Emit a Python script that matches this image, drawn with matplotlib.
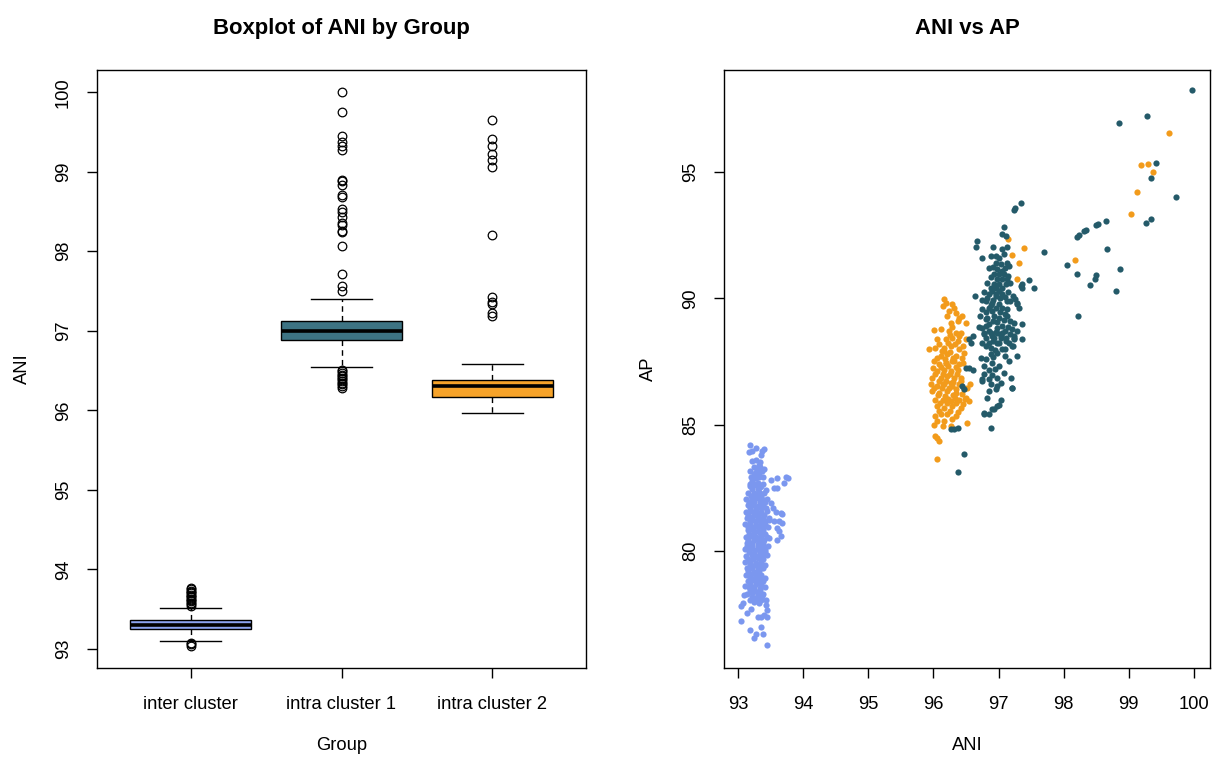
import matplotlib
matplotlib.use("Agg")
import matplotlib.pyplot as plt

plt.rcParams['font.family'] = ['Liberation Sans', 'DejaVu Sans']

# ---------------- Boxplot data (stats) ----------------
groups = ["inter cluster", "intra cluster 1", "intra cluster 2"]
box_med = [93.305, 97.00, 96.30]
box_q1 = [93.245, 96.88, 96.17]
box_q3 = [93.367, 97.12, 96.38]
box_whislo = [93.096, 96.55, 95.97]
box_whishi = [93.52, 97.40, 96.58]
fliers_inter = [93.54, 93.56, 93.58, 93.60, 93.62, 93.63, 93.65, 93.66, 93.68,
                93.70, 93.71, 93.73, 93.75, 93.77, 93.04, 93.06, 93.08]
fliers_intra1 = [100.0, 99.75, 99.45, 99.37, 99.33, 99.28, 98.90, 98.88, 98.83,
                 98.71, 98.68, 98.53, 98.50, 98.43, 98.36, 98.33, 98.26, 98.24,
                 98.07, 97.72, 97.57, 97.50,
                 96.28, 96.31, 96.33, 96.35, 96.37, 96.39, 96.41, 96.43, 96.45,
                 96.47, 96.49, 96.51]
fliers_intra2 = [99.65, 99.41, 99.32, 99.22, 99.15, 99.06, 98.21, 97.42, 97.36,
                 97.34, 97.23, 97.19]
box_colors = ["#8CA4F0", "#3D7383", "#F6A32A"]

# ---------------- Scatter data ----------------
inter_ani = [93.19, 93.27, 93.17, 93.22, 93.37, 93.40, 93.35,
             93.32, 93.30, 93.19, 93.25, 93.37, 93.40,
             93.27, 93.22, 93.30, 93.35, 93.43,
             93.50, 93.60, 93.73, 93.71, 93.55, 93.60, 93.76,
             93.50, 93.53, 93.58, 93.66, 93.68, 93.47, 93.48, 93.55, 93.63, 93.68,
             93.60, 93.63, 93.66, 93.48, 93.60,
             93.09, 93.04, 93.07, 93.04, 93.14, 93.19, 93.27, 93.25, 93.35, 93.39,
             93.45, 93.30, 93.35, 93.40, 93.45, 93.43, 93.45, 93.20, 93.11,
             93.16, 93.24, 93.32, 93.40,
             93.13, 93.21, 93.29, 93.37, 93.44,
             93.15, 93.23, 93.31, 93.39,
             93.12, 93.20, 93.28, 93.36, 93.44,
             93.14, 93.22, 93.30, 93.38,
             93.11, 93.19, 93.27, 93.35, 93.42,
             93.15, 93.23, 93.31, 93.39,
             93.12, 93.20, 93.28, 93.36, 93.44,
             93.14, 93.22, 93.30, 93.38,
             93.10, 93.18, 93.26, 93.34, 93.42,
             93.13, 93.21, 93.29, 93.37, 93.45,
             93.11, 93.19, 93.27, 93.35,
             93.14, 93.22, 93.30, 93.38,
             93.12, 93.20, 93.28, 93.36,
             93.15, 93.23, 93.31, 93.39,
             93.17, 93.25, 93.33, 93.41,
             93.14, 93.22, 93.30, 93.38,
             93.19, 93.27, 93.35, 93.43,
             93.18, 93.26, 93.34, 93.28, 93.22, 93.33,
             93.20, 93.28, 93.36,
             93.17, 93.25, 93.33, 93.41,
             93.19, 93.27, 93.35, 93.43,
             93.16, 93.24, 93.32, 93.40,
             93.18, 93.26, 93.34, 93.42,
             93.15, 93.23, 93.31, 93.39, 93.46,
             93.17, 93.25, 93.33, 93.41,
             93.16, 93.24, 93.32, 93.40,
             93.14, 93.22, 93.30, 93.38, 93.46,
             93.17, 93.25, 93.33, 93.41,
             93.15, 93.23, 93.31, 93.39,
             93.18, 93.26, 93.34, 93.42,
             93.16, 93.24, 93.32,
             93.18, 93.26, 93.34, 93.42,
             93.19, 93.27, 93.35,
             93.18, 93.26, 93.34,
             93.21, 93.29, 93.37,
             93.24, 93.32,
             93.24, 93.34, 93.28, 93.32, 93.20, 93.32, 93.38,
             93.18, 93.26, 93.38, 93.22, 93.30]
inter_ap = [84.17, 84.07, 83.90, 83.94, 83.94, 84.01, 83.81,
            83.41, 83.28, 83.15, 83.02, 83.15, 83.24,
            82.88, 82.75, 82.69, 82.55, 82.42,
            82.82, 82.88, 82.92, 82.69, 82.49, 82.49, 82.88,
            81.89, 81.69, 81.52, 81.50, 81.47, 81.30, 81.23, 81.16, 81.16, 81.10,
            80.90, 80.77, 80.57, 80.50, 80.44,
            78.25, 77.79, 77.92, 77.20, 77.53, 76.87, 76.69, 76.53, 76.96, 76.69,
            76.27, 77.39, 77.39, 77.46, 77.66, 77.86, 77.39, 77.70, 78.60,
            82.30, 82.28, 82.32, 82.30,
            82.05, 82.03, 82.07, 82.05, 82.06,
            81.80, 81.82, 81.78, 81.80,
            81.55, 81.57, 81.53, 81.55, 81.56,
            81.30, 81.32, 81.28, 81.30,
            81.05, 81.07, 81.03, 81.05, 81.04,
            80.80, 80.82, 80.78, 80.80,
            80.55, 80.57, 80.53, 80.55, 80.56,
            80.30, 80.32, 80.28, 80.30,
            80.05, 80.07, 80.03, 80.05, 80.04,
            79.80, 79.82, 79.78, 79.80, 79.81,
            79.55, 79.57, 79.53, 79.55,
            79.30, 79.32, 79.28, 79.30,
            79.05, 79.07, 79.03, 79.05,
            78.80, 78.82, 78.78, 78.80,
            78.55, 78.57, 78.53, 78.55,
            78.30, 78.32, 78.28, 78.30,
            78.05, 78.07, 78.03, 78.05,
            82.55, 82.60, 82.52, 83.60, 83.55, 83.50,
            82.18, 82.17, 82.19,
            81.93, 81.92, 81.94, 81.93,
            81.68, 81.67, 81.69, 81.68,
            81.43, 81.42, 81.44, 81.43,
            81.18, 81.17, 81.19, 81.18,
            80.93, 80.92, 80.94, 80.93, 80.92,
            80.68, 80.67, 80.69, 80.68,
            80.43, 80.42, 80.44, 80.43,
            80.18, 80.17, 80.19, 80.18, 80.17,
            79.93, 79.92, 79.94, 79.93,
            79.68, 79.67, 79.69, 79.68,
            79.43, 79.42, 79.44, 79.43,
            79.18, 79.17, 79.19,
            78.93, 78.92, 78.94, 78.93,
            78.68, 78.67, 78.69,
            78.43, 78.42, 78.44,
            78.18, 78.17, 78.19,
            77.95, 77.94,
            83.30, 83.32, 83.10, 83.08, 82.90, 82.92, 82.90,
            82.65, 82.66, 82.64, 82.45, 82.44]

intra2_ani = [96.16, 96.20, 96.15, 96.29, 96.32, 96.24, 96.34, 96.21, 96.39, 96.44,
              96.37, 96.27, 96.50, 96.01, 96.11, 96.24, 96.34, 96.42, 96.06, 96.19,
              96.29, 96.37, 96.50, 95.93, 96.03, 96.16, 96.27, 96.39, 96.47, 96.11,
              96.21, 96.34, 96.44, 96.01, 96.09, 96.19, 96.29, 96.39, 96.06, 96.16,
              96.27, 96.37, 95.98, 96.11, 96.21, 96.32, 96.42, 95.96, 96.06, 96.16,
              96.29, 96.39, 95.98, 96.09, 96.21, 96.34, 96.47, 96.52, 96.03, 96.14,
              96.27, 96.39, 96.50, 96.06, 96.16, 96.29, 96.42, 96.11, 96.21, 96.34,
              96.03, 96.06, 96.16, 96.29, 96.01, 96.14, 96.27, 96.03, 96.09, 96.06,
              96.06, 96.52,
              96.08, 96.22, 96.33, 96.13, 96.25, 96.05, 96.18, 96.30, 96.23, 96.12,
              96.35, 96.02, 96.14, 96.25, 96.36, 96.08, 96.19, 96.30, 96.43, 96.01,
              96.13, 96.24, 96.35, 96.07, 96.18, 96.30, 96.44, 96.10, 96.21, 96.34,
              96.09, 96.25, 96.37, 96.45, 96.48, 96.55, 95.99, 96.45, 96.40, 96.28,
              96.45, 96.56,
              96.20, 96.31, 96.15, 96.27, 96.22, 96.33, 96.17, 96.26,
              97.15, 97.39, 97.21, 97.31, 97.29, 99.62, 99.19, 99.30, 99.37, 99.12,
              99.04, 98.17]
intra2_ap = [89.96, 89.83, 89.69, 89.76, 89.63, 89.50, 89.43, 89.30, 89.23, 89.30,
             89.10, 89.03, 89.03, 88.75, 88.77, 88.70, 88.64, 88.64, 88.37, 88.37,
             88.44, 88.31, 88.37, 88.00, 88.04, 88.04, 88.11, 87.98, 87.84, 87.71,
             87.78, 87.71, 87.65, 87.51, 87.38, 87.45, 87.51, 87.38, 87.12, 87.18,
             87.12, 87.18, 86.85, 86.85, 86.92, 86.85, 86.85, 86.59, 86.52, 86.59,
             86.52, 86.59, 86.32, 86.26, 86.32, 86.26, 86.39, 86.46, 85.99, 85.99,
             85.93, 85.99, 86.06, 85.73, 85.66, 85.73, 85.66, 85.40, 85.40, 85.34,
             85.34, 85.14, 85.14, 85.20, 85.00, 84.93, 84.93, 84.54, 84.34, 84.47,
             83.64, 85.07,
             88.20, 88.22, 88.18, 87.90, 87.88, 87.62, 87.60, 87.62, 87.30, 87.28,
             87.28, 87.00, 87.02, 87.00, 87.02, 86.72, 86.74, 86.70, 86.72, 86.45,
             86.43, 86.44, 86.42, 86.15, 86.12, 86.15, 86.20, 85.85, 85.86, 85.84,
             85.55, 85.55, 85.50, 85.80, 86.00, 85.95, 87.25, 87.45, 88.50, 88.85,
             88.10, 86.60,
             87.45, 87.50, 86.60, 86.65, 86.00, 86.05, 87.90, 88.55,
             92.34, 92.01, 91.72, 91.39, 90.75, 96.54, 95.28, 95.32, 94.99, 94.22,
             93.33, 91.53]

intra1_ani = [99.97, 99.28, 98.85, 99.42, 99.34, 99.73, 99.26, 99.34, 98.65, 98.52,
              98.49, 98.34, 98.31, 98.24, 98.21, 97.69, 98.67, 98.05, 98.21, 98.49,
              98.48, 98.86, 98.40, 98.80, 98.22,
              97.34, 97.26, 97.24, 97.08, 97.06, 97.11, 96.67, 96.65, 96.91, 97.06,
              97.13, 96.75, 96.88, 96.96, 97.01, 97.08, 97.47, 97.36, 97.36, 97.54,
              96.64,
              96.96, 97.03, 97.13, 97.16, 96.98, 97.06, 96.93, 97.01, 97.08, 96.98,
              97.06, 97.13, 96.93, 97.01, 97.11, 96.88, 96.96, 97.06, 96.85, 96.96,
              97.06, 96.96, 96.80, 97.13, 97.18, 96.90, 97.29, 96.85, 96.96, 97.06,
              97.31, 96.75, 97.13, 96.72, 96.93, 97.13, 96.83, 97.01, 97.18, 97.24,
              96.80, 97.06, 96.75, 96.98, 97.21, 97.29, 96.77, 97.18, 96.90, 97.03,
              97.24, 97.36,
              96.90, 97.00, 96.82, 96.92, 97.02, 97.10, 96.88, 97.00, 96.80, 96.90,
              97.02, 97.08, 96.92, 96.86, 96.96, 97.10, 96.92, 97.00, 97.12, 96.88,
              96.95, 97.10,
              96.78, 96.88, 96.98, 97.06, 96.80, 96.93, 97.03, 97.11, 96.75, 96.85,
              96.98, 97.24, 97.21, 97.29, 97.16, 96.73, 96.80, 96.88, 96.98, 97.06,
              96.90, 97.01, 96.78, 96.85, 96.55, 96.60, 96.75, 96.85, 96.98, 96.88,
              96.98, 96.85, 97.19, 97.21, 97.03, 96.98, 96.90, 96.78, 96.85, 96.37,
              96.32, 96.27, 96.88, 96.47, 96.37,
              96.55, 96.60, 96.57, 96.50, 96.44, 96.47, 96.75, 96.77,
              97.26, 97.29, 97.36, 97.24, 97.22, 97.21, 97.03, 96.96, 96.83, 97.01,
              96.93, 97.34,
              96.85, 96.92, 97.10, 96.88, 97.15, 96.82, 97.18, 96.78, 97.14, 96.75,
              97.22, 96.80, 97.10, 96.86, 96.98, 96.70, 97.14, 96.80, 97.16, 96.92,
              97.10, 96.95, 97.08, 96.78, 96.90]
intra1_ap = [98.27, 97.21, 96.93, 95.36, 94.76, 94.03, 93.00, 93.13, 93.07, 92.94,
             92.90, 92.70, 92.67, 92.50, 92.44, 91.85, 91.94, 91.31, 90.98, 90.93,
             90.78, 91.15, 90.52, 90.29, 89.31,
             93.76, 93.57, 93.49, 92.83, 92.54, 92.47, 92.28, 92.04, 92.04, 91.94,
             92.04, 91.61, 91.68, 91.68, 91.61, 91.75, 90.71, 90.58, 90.42, 90.42,
             90.09,
             91.42, 91.35, 91.42, 91.28, 91.15, 91.09, 90.95, 90.95, 90.95, 90.75,
             90.75, 90.75, 90.56, 90.56, 90.56, 90.42, 90.42, 90.42, 90.16, 90.16,
             90.16, 90.09, 89.89, 89.89, 89.89, 89.83, 89.83, 89.63, 89.63, 89.63,
             89.63, 89.56, 89.56, 89.30, 89.30, 89.30, 89.23, 89.23, 89.10, 89.03,
             88.90, 88.90, 88.83, 88.83, 88.77, 88.70, 88.57, 88.57, 88.50, 88.50,
             88.44, 88.37,
             90.30, 90.30, 90.00, 89.95, 90.00, 90.05, 89.75, 89.78, 89.45, 89.48,
             89.45, 89.15, 89.10, 88.70, 88.68, 88.72, 88.30, 88.25, 88.30, 88.05,
             87.95, 88.00,
             88.64, 88.64, 88.64, 88.64, 88.44, 88.44, 88.44, 88.44, 88.24, 88.24,
             88.24, 88.40, 88.11, 87.71, 87.51, 87.65, 87.58, 87.78, 87.84, 87.98,
             87.45, 87.31, 87.31, 87.18, 87.25, 87.18, 86.81, 86.79, 86.85, 86.59,
             86.52, 86.32, 86.85, 86.46, 85.99, 85.73, 85.60, 85.46, 85.40, 84.87,
             84.83, 84.83, 84.87, 83.85, 83.11,
             88.37, 88.50, 88.24, 87.25, 86.52, 86.39, 86.72, 85.40,
             89.96, 89.76, 88.97, 88.51, 88.11, 86.45, 86.65, 86.39, 86.06, 85.79,
             85.60, 90.49,
             91.20, 91.25, 91.20, 90.85, 90.90, 90.60, 90.60, 90.25, 90.25, 89.95,
             90.10, 89.20, 89.38, 89.00, 89.05, 88.85, 88.85, 88.12, 88.25, 87.68,
             87.70, 87.20, 87.05, 87.00, 86.95]

pt_colors = {"inter": "#7B97EF", "intra1": "#245A69", "intra2": "#F29B1B"}

# ---------------- Figure ----------------
fig = plt.figure(figsize=(12.13, 7.58), dpi=100)
ax1 = fig.add_axes([97 / 1213, 90 / 758, 489 / 1213, 598 / 758])
ax2 = fig.add_axes([724 / 1213, 90 / 758, 486 / 1213, 598 / 758])

label_fs = 13.2
title_fs = 15.9

# Boxplot
fliers = [fliers_inter, fliers_intra1, fliers_intra2]
stats = []
for i, g in enumerate(groups):
    stats.append(dict(label=g, med=box_med[i], q1=box_q1[i], q3=box_q3[i],
                      whislo=box_whislo[i], whishi=box_whishi[i], fliers=fliers[i]))
bp = ax1.bxp(stats, positions=[1, 2, 3], widths=0.8, patch_artist=True,
             boxprops=dict(edgecolor="black", linewidth=1.0),
             medianprops=dict(color="black", linewidth=2.6, solid_capstyle="butt"),
             whiskerprops=dict(color="black", linewidth=1.0, linestyle=(0, (4, 3))),
             capprops=dict(color="black", linewidth=1.0),
             capwidths=0.4,
             flierprops=dict(marker="o", markerfacecolor="none",
                             markeredgecolor="black", markersize=6.2,
                             markeredgewidth=0.9, linestyle="none"))
for patch, c in zip(bp["boxes"], box_colors):
    patch.set_facecolor(c)

ax1.set_xlim(0.38, 3.62)
ax1.set_ylim(92.76, 100.28)
ax1.set_yticks([93, 94, 95, 96, 97, 98, 99, 100])
ax1.set_xticks([1, 2, 3])
ax1.set_xticklabels(groups)
ax1.set_title("Boxplot of ANI by Group", fontsize=title_fs, fontweight="bold", pad=26)
ax1.set_xlabel("Group", fontsize=label_fs, va="center")
ax1.set_ylabel("ANI", fontsize=label_fs, va="center")
ax1.xaxis.set_label_coords(0.5, (668 - 746) / 598)
ax1.yaxis.set_label_coords((22 - 97) / 489, 0.5)

# Scatter
msize = 20
ax2.scatter(inter_ani, inter_ap, s=msize, color=pt_colors["inter"], linewidths=0)
ax2.scatter(intra2_ani, intra2_ap, s=msize, color=pt_colors["intra2"], linewidths=0)
ax2.scatter(intra1_ani, intra1_ap, s=msize, color=pt_colors["intra1"], linewidths=0)
ax2.set_xlim(92.785, 100.246)
ax2.set_ylim(75.35, 99.05)
ax2.set_xticks([93, 94, 95, 96, 97, 98, 99, 100])
ax2.set_yticks([80, 85, 90, 95])
ax2.set_title("ANI vs AP", fontsize=title_fs, fontweight="bold", pad=26)
ax2.set_xlabel("ANI", fontsize=label_fs, va="center")
ax2.set_ylabel("AP", fontsize=label_fs, va="center")
ax2.xaxis.set_label_coords(0.5, (668 - 746) / 598)
ax2.yaxis.set_label_coords((648 - 724) / 486, 0.5)

for ax in (ax1, ax2):
    ax.tick_params(direction="out", length=7, width=1.0, labelsize=label_fs,
                   color="black")
    ax.tick_params(axis="x", pad=13)
    ax.tick_params(axis="y", pad=11)
    for lab in ax.get_yticklabels():
        lab.set_rotation(90)
        lab.set_va("center")
    for sp in ax.spines.values():
        sp.set_linewidth(1.0)
        sp.set_color("black")

fig.savefig("out.png", dpi=100, facecolor="white")
